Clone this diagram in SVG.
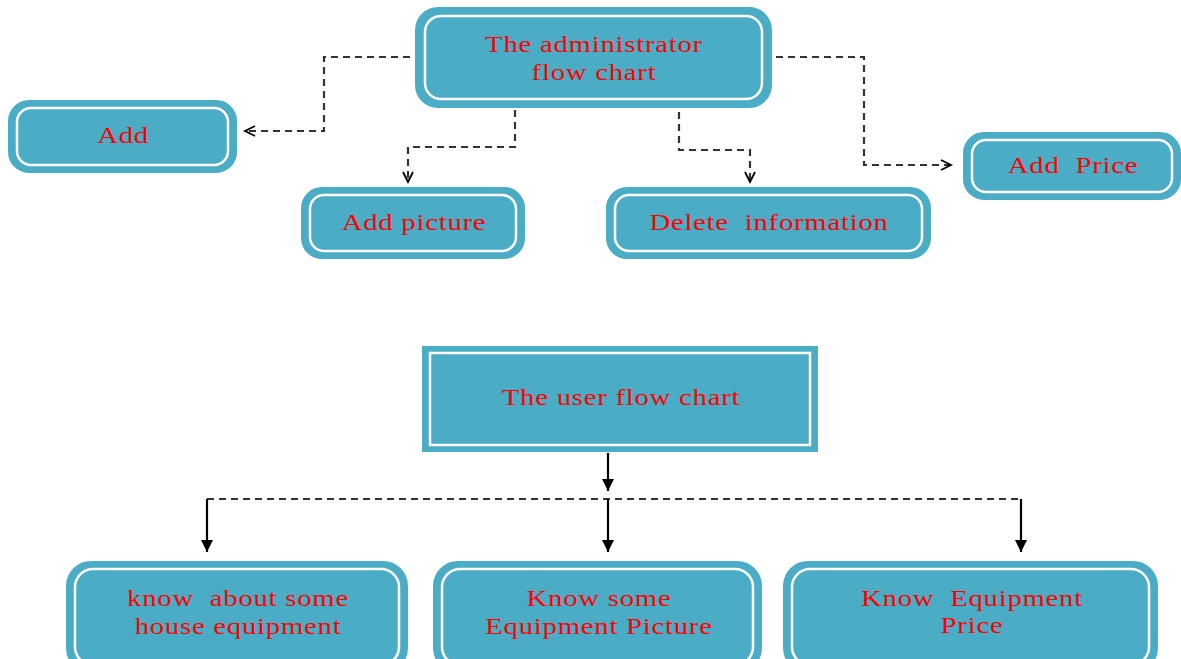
<svg xmlns="http://www.w3.org/2000/svg" width="1181" height="659" viewBox="0 0 1181 659">
<style>
.box{fill:#4BACC6;stroke:#4BACC6;stroke-width:2}
.inner{fill:none;stroke:#FFFFFF;stroke-width:2.5}
.t{font-family:"Liberation Serif","Times New Roman",serif;font-size:23px;fill:#FF0000;text-anchor:middle;letter-spacing:0.6px;white-space:pre}
.dash{fill:none;stroke:#333333;stroke-width:2.2;stroke-dasharray:7 5}
.solid{fill:none;stroke:#000000;stroke-width:2.2}
</style>
<defs>
<marker id="open" markerWidth="14" markerHeight="14" refX="11" refY="6" orient="auto" markerUnits="userSpaceOnUse">
<path d="M1,1 L11,6 L1,11" fill="none" stroke="#000" stroke-width="1.8"/>
</marker>
<marker id="fill" markerWidth="14" markerHeight="14" refX="12" refY="6" orient="auto" markerUnits="userSpaceOnUse">
<path d="M0,0 L12,6 L0,12 Z" fill="#000"/>
</marker>
</defs>
<rect width="1181" height="659" fill="#FFFFFF"/>
<g id="connectors">
<path class="dash" d="M410,57 H324 V131 H245" marker-end="url(#open)"/>
<path class="dash" d="M515,110 V147 H408 V182" marker-end="url(#open)"/>
<path class="dash" d="M679,112 V150 H750 V182" marker-end="url(#open)"/>
<path class="dash" d="M776,57 H864 V165 H951" marker-end="url(#open)"/>
<path class="solid" d="M608,453 V491" marker-end="url(#fill)"/>
<path class="dash" d="M207,499 H1021"/>
<path class="solid" d="M207,499 V552" marker-end="url(#fill)"/>
<path class="solid" d="M608,499 V552" marker-end="url(#fill)"/>
<path class="solid" d="M1021,499 V552" marker-end="url(#fill)"/>
</g>
<g id="admin">
<rect class="box" x="416" y="8" width="355" height="99" rx="22"/>
<rect class="inner" x="425" y="16" width="337" height="83" rx="16"/>
<g transform="translate(594,0) scale(1.25,1)">
<text class="t" x="0" y="52">The administrator</text>
<text class="t" x="0" y="80">flow chart</text>
</g>
</g>
<g id="add">
<rect class="box" x="9" y="101" width="227" height="71" rx="20"/>
<rect class="inner" x="17" y="108" width="211" height="57" rx="14"/>
<g transform="translate(123,0) scale(1.25,1)"><text class="t" x="0" y="143">Add</text></g>
</g>
<g id="addpicture">
<rect class="box" x="302" y="188" width="222" height="70" rx="20"/>
<rect class="inner" x="310" y="195" width="206" height="56" rx="14"/>
<g transform="translate(414,0) scale(1.25,1)"><text class="t" x="0" y="230">Add picture</text></g>
</g>
<g id="delete">
<rect class="box" x="607" y="188" width="323" height="70" rx="20"/>
<rect class="inner" x="615" y="195" width="307" height="56" rx="14"/>
<g transform="translate(769,0) scale(1.25,1)"><text class="t" x="0" y="230">Delete  information</text></g>
</g>
<g id="addprice">
<rect class="box" x="964" y="133" width="216" height="66" rx="20"/>
<rect class="inner" x="972" y="140" width="200" height="52" rx="14"/>
<g transform="translate(1073,0) scale(1.25,1)"><text class="t" x="0" y="173">Add  Price</text></g>
</g>
<g id="user">
<rect class="box" x="423" y="347" width="394" height="104"/>
<rect class="inner" x="430" y="353" width="380" height="92"/>
<g transform="translate(621,0) scale(1.25,1)"><text class="t" x="0" y="405">The user flow chart</text></g>
</g>
<g id="know1">
<rect class="box" x="67" y="562" width="340" height="110" rx="24"/>
<rect class="inner" x="75" y="569" width="324" height="96" rx="18"/>
<g transform="translate(238,0) scale(1.25,1)">
<text class="t" x="0" y="606">know  about some</text>
<text class="t" x="0" y="634">house equipment</text>
</g>
</g>
<g id="know2">
<rect class="box" x="434" y="562" width="327" height="110" rx="24"/>
<rect class="inner" x="442" y="569" width="311" height="96" rx="18"/>
<g transform="translate(599,0) scale(1.25,1)">
<text class="t" x="0" y="606">Know some</text>
<text class="t" x="0" y="634">Equipment Picture</text>
</g>
</g>
<g id="know3">
<rect class="box" x="784" y="562" width="373" height="110" rx="24"/>
<rect class="inner" x="792" y="569" width="357" height="96" rx="18"/>
<g transform="translate(972,0) scale(1.25,1)">
<text class="t" x="0" y="606">Know  Equipment</text>
<text class="t" x="0" y="633">Price</text>
</g>
</g>
</svg>
